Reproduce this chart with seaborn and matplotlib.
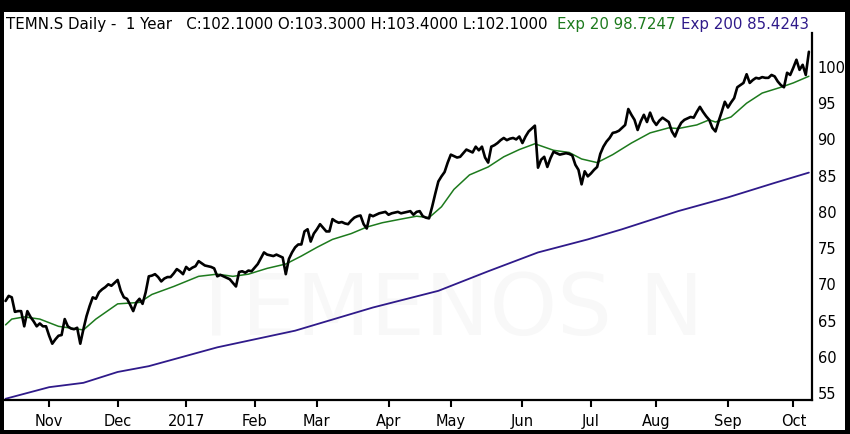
import matplotlib
matplotlib.use("Agg")
import numpy as np
import pandas as pd
import seaborn as sns
from matplotlib import pyplot as plt

# daily closes, one per business day from 12 Oct 2016 to 9 Oct 2017
close = [
    67.7, 68.4, 68.2, 66.2, 66.3, 66.3, 64.2, 66.3, 65.5, 64.9,
    64.2, 64.6, 64.2, 64.2, 62.9, 61.8, 62.4, 62.9, 63.0, 65.2,
    64.2, 63.9, 63.8, 64.0, 61.8, 63.8, 65.6, 67.0, 68.2, 68.0,
    68.9, 69.3, 69.6, 70.0, 69.8, 70.2, 70.6, 69.1, 68.2, 68.0,
    67.2, 66.3, 67.5, 68.0, 67.3, 68.9, 71.1, 71.2, 71.4, 71.0,
    70.4, 70.8, 71.0, 71.0, 71.5, 72.1, 71.8, 71.4, 72.4, 72.0,
    72.3, 72.5, 73.2, 72.9, 72.6, 72.5, 72.4, 72.2, 71.1, 71.3,
    71.1, 70.9, 70.7, 70.2, 69.7, 71.7, 71.8, 71.6, 71.9, 71.8,
    72.3, 72.8, 73.6, 74.4, 74.1, 74.0, 73.9, 74.1, 73.9, 73.7,
    71.4, 73.5, 74.4, 75.1, 75.5, 75.5, 77.3, 77.6, 75.9, 77.0,
    77.6, 78.3, 77.8, 77.3, 77.3, 79.0, 78.7, 78.5, 78.6, 78.4,
    78.3, 78.8, 79.2, 79.4, 79.5, 78.3, 77.7, 79.6, 79.4, 79.6,
    79.8, 79.9, 80.0, 79.6, 79.8, 79.9, 80.0, 79.8, 79.9, 80.0,
    80.1, 79.6, 80.0, 80.1, 79.4, 79.2, 79.1, 80.7, 82.5, 84.2,
    84.9, 85.5, 86.8, 87.9, 87.7, 87.5, 87.6, 88.1, 88.6, 88.4,
    88.2, 89.0, 88.5, 89.0, 87.5, 86.8, 89.0, 89.2, 89.5, 89.9,
    90.2, 89.9, 90.1, 90.2, 90.0, 90.4, 89.5, 90.4, 91.1, 91.5,
    91.9, 86.1, 87.2, 87.6, 86.2, 87.4, 88.3, 88.1, 87.9, 88.0,
    88.1, 88.0, 87.8, 86.5, 85.8, 83.8, 85.6, 84.9, 85.3, 85.8,
    86.2, 88.0, 89.0, 89.7, 90.2, 90.9, 91.0, 91.2, 91.6, 92.0,
    94.2, 93.4, 92.7, 91.3, 92.5, 93.4, 92.4, 93.7, 92.6, 92.0,
    92.6, 93.0, 92.7, 92.4, 91.1, 90.4, 91.5, 92.3, 92.7, 92.9,
    93.1, 93.0, 93.8, 94.5, 93.8, 93.2, 92.7, 91.6, 91.1, 92.5,
    93.8, 95.2, 94.4, 95.1, 95.7, 97.2, 97.5, 97.8, 99.0, 97.8,
    98.2, 98.5, 98.4, 98.6, 98.5, 98.5, 98.9, 98.7, 98.0, 97.5,
    97.2, 99.2, 98.9, 99.9, 101.0, 99.6, 100.3, 98.9, 102.1,
]

# exponential averages (day number, value)
ema20_day = [0, 2, 6, 11, 17, 25, 29, 36, 43, 47, 54, 62, 68, 73, 78, 84,
             90, 95, 100, 105, 111, 116, 121, 127, 132, 136, 140, 144, 149,
             155, 160, 165, 170, 176, 181, 185, 190, 195, 201, 207, 213, 216,
             222, 226, 228, 233, 238, 243, 249, 253, 258]
ema20 = [64.4, 65.2, 65.5, 65.2, 64.2, 63.7, 65.2, 67.3, 67.5, 68.6, 69.7,
         71.1, 71.4, 71.1, 71.4, 72.2, 72.8, 73.9, 75.1, 76.2, 77.0, 77.9,
         78.5, 79.0, 79.4, 79.2, 80.7, 83.1, 85.1, 86.2, 87.6, 88.6, 89.4,
         88.5, 88.2, 87.3, 86.8, 87.9, 89.5, 90.9, 91.6, 91.5, 92.0, 92.7,
         92.4, 93.1, 95.0, 96.4, 97.2, 97.8, 98.72]

ema200_day = [0, 14, 25, 36, 46, 68, 93, 118, 139, 155, 171, 187, 198, 216,
              232, 247, 258]
ema200 = [54.2, 55.8, 56.4, 57.9, 58.7, 61.3, 63.6, 66.8, 69.1, 71.8, 74.4,
          76.2, 77.6, 80.1, 82.0, 84.0, 85.42]

month_labels = ["Nov", "Dec", "2017", "Feb", "Mar", "Apr", "May", "Jun",
                "Jul", "Aug", "Sep", "Oct"]
y_ticks = [55, 60, 65, 70, 75, 80, 85, 90, 95, 100]

GREEN = "#1d7a1d"
PURPLE = "#2f1a8a"

W, H = 850, 434

if __name__ == "__main__":
    dates = pd.bdate_range("2016-10-12", periods=len(close))
    df = pd.DataFrame({"day": np.arange(len(close)), "close": close})
    df20 = pd.DataFrame({"day": ema20_day, "ema": ema20})
    df200 = pd.DataFrame({"day": ema200_day, "ema": ema200})
    month_pos = [i for i in range(1, len(dates)) if dates[i].month != dates[i - 1].month]

    sns.set_style("white")
    plt.rcParams["font.family"] = ["DejaVu Sans"]

    fig = plt.figure(figsize=(W / 100, H / 100), dpi=100, facecolor="black")

    # white panel inside the black frame
    bg = fig.add_axes([3.5 / W, 4 / H, (845 - 3.5) / W, (430 - 12) / H])
    bg.set_facecolor("white")
    bg.set_xticks([])
    bg.set_yticks([])
    for s in bg.spines.values():
        s.set_visible(False)

    ax = fig.add_axes([4 / W, (H - 400) / H, (812 - 4) / W, (400 - 33) / H])
    ax.set_facecolor("none")

    # faint watermark
    ax.text(0.548, 0.24, "TEMENOS N", transform=ax.transAxes, fontsize=62,
            color="#f8f8f8", ha="center", va="center", zorder=0)

    sns.lineplot(data=df200, x="day", y="ema", ax=ax, color=PURPLE, linewidth=1.3)
    sns.lineplot(data=df20, x="day", y="ema", ax=ax, color=GREEN, linewidth=1.1)
    sns.lineplot(data=df, x="day", y="close", ax=ax, color="black", linewidth=1.9)

    ax.set_xlim(-0.5, 259.0)
    ax.set_ylim(54.03, 104.69)
    ax.set(xlabel="", ylabel="")

    ax.set_xticks(month_pos)
    ax.set_xticklabels(month_labels)
    ax.set_yticks(y_ticks)
    ax.set_yticklabels([str(v) for v in y_ticks])
    ax.yaxis.tick_right()
    ax.tick_params(axis="x", direction="out", length=5, width=1.5, color="black",
                   labelsize=10.5, labelcolor="black", pad=5, bottom=True)
    ax.tick_params(axis="y", length=0, labelsize=10.5, labelcolor="black", pad=4,
                   right=True, left=False)

    for side in ["top", "left"]:
        ax.spines[side].set_visible(False)
    for side in ["right", "bottom"]:
        ax.spines[side].set_visible(True)
        ax.spines[side].set_color("black")
        ax.spines[side].set_linewidth(1.6)

    ty = (H - 29) / H
    fig.text(6 / W, ty, "TEMN.S Daily -  1 Year   C:102.1000 O:103.3000 H:103.4000 L:102.1000",
             fontsize=10.8, color="black", va="baseline")
    fig.text(557 / W, ty, "Exp 20 98.7247", fontsize=10.8, color=GREEN, va="baseline")
    fig.text(681 / W, ty, "Exp 200 85.4243", fontsize=10.8, color=PURPLE, va="baseline")

    fig.savefig("out.png", dpi=100, facecolor="black")
    plt.close(fig)
